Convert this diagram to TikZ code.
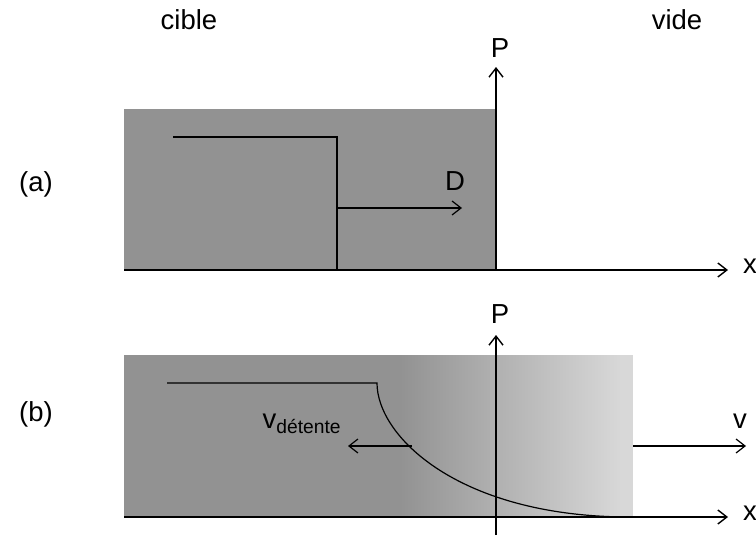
\documentclass[tikz,border=0pt]{standalone}
\usepackage{fontspec}
\setmainfont{Liberation Sans}
\usetikzlibrary{arrows.meta}
\definecolor{gdark}{HTML}{929292}
\definecolor{glight}{HTML}{D8D8D8}
\begin{document}
\begin{tikzpicture}[x=1pt,y=-1pt,line width=1.4pt,
  lbl/.style={font=\fontsize{27.5}{32}\selectfont,inner sep=0pt,anchor=base},
  arr/.style={-{Straight Barb[length=9pt,width=14pt]}},
  curve/.style={line width=1.2pt}]
\useasboundingbox (0,0) rectangle (756,538);
% ---- top labels
\node[lbl] (cible) at (189,30) {cible};
\node[lbl] (vide) at (677,30) {vide};
% ---- (a)
\fill[gdark] (124,109) rectangle (496,270);
\coordinate (ax0) at (124,270);
\coordinate (ax1) at (728,270);
\coordinate (ap0) at (496,270);
\coordinate (ap1) at (496,67);
\draw[arr] (ax0) -- (ax1);
\draw[arr] (ap0) -- (ap1);
\node[lbl] (Pa) at (500,57) {P};
\node[lbl] (xa) at (750,273) {x};
\node[lbl] (la) at (36,191) {(a)};
\coordinate (s0) at (173,137);
\coordinate (s1) at (337,137);
\coordinate (s2) at (337,270);
\draw[curve] (s0) -- (s1) -- (s2);
\coordinate (d0) at (337,208);
\coordinate (d1) at (462,208);
\draw[arr,curve] (d0) -- (d1);
\node[lbl] (D) at (455,190) {D};
% ---- (b)
\fill[gdark] (124,355) rectangle (401,517);
\shade[left color=gdark,right color=glight] (400,355) rectangle (621,517);
\fill[glight] (620,355) rectangle (633,517);
\coordinate (bx0) at (124,517);
\coordinate (bx1) at (728,517);
\coordinate (bp0) at (496,535);
\coordinate (bp1) at (496,335);
\draw[arr] (bx0) -- (bx1);
\draw[arr] (bp0) -- (bp1);
\node[lbl] (Pb) at (500,323) {P};
\node[lbl] (xb) at (750,520) {x};
\node[lbl] (lb) at (36,421) {(b)};
\coordinate (c0) at (167,383);
\coordinate (c1) at (377,383);
\coordinate (c2) at (630,517);
\draw[curve] (c0) -- (c1) .. controls (377,437) and (460,517) .. (c2);
\coordinate (vd0) at (412,446);
\coordinate (vd1) at (348,446);
\draw[arr,curve] (vd0) -- (vd1);
\node[lbl,anchor=base west] (vdet) at (262,428) {v\textsubscript{détente}};
\coordinate (v0) at (633,446);
\coordinate (v1) at (746,446);
\draw[arr,curve] (v0) -- (v1);
\node[lbl] (v) at (740,428) {v};
\end{tikzpicture}
\end{document}
